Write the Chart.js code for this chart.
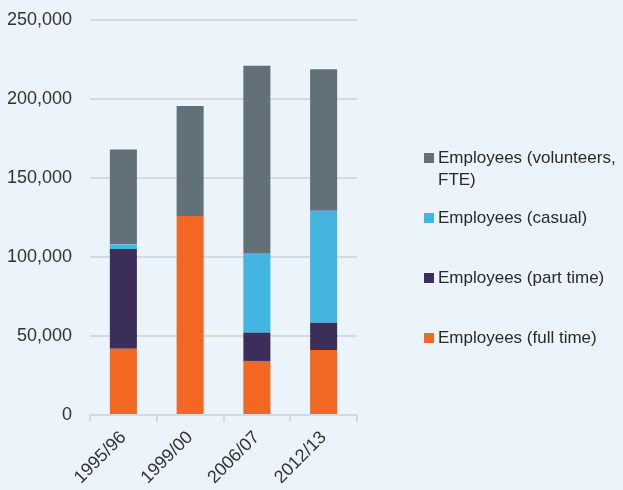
<!DOCTYPE html>
<html>
<head>
<meta charset="utf-8">
<script src="https://cdn.jsdelivr.net/npm/chart.js@4/dist/chart.umd.min.js"></script>
<style>
  html, body { margin: 0; padding: 0; background: #ebf3fb; }
  #wrap { position: relative; width: 623px; height: 490px; }
  #legend {
    position: absolute; left: 424px; top: 147px; margin: 0; padding: 0;
    list-style: none; font-family: "Liberation Sans", Arial, sans-serif;
    font-size: 17px; line-height: 22px; color: #2a2a2a;
  }
  #legend li { position: relative; height: 60px; padding-left: 14px; width: 182px; }
  #legend span.box { position: absolute; left: 0; top: 6px; width: 10px; height: 10px; }
</style>
</head>
<body>
<div id="wrap">
  <canvas id="chart" width="623" height="490"></canvas>
  <ul id="legend"></ul>
</div>
<script>
const years = ['1995/96', '1999/00', '2006/07', '2012/13'];
const fullTime   = [42000, 126000, 34200, 41100];
const partTime   = [63000, 0, 17900, 17300];
const casual     = [3000, 0, 50400, 70900];
const volunteers = [60000, 69500, 118600, 89500];
const yTicks = [0, 50000, 100000, 150000, 200000, 250000];

const series = [
  { label: 'Employees (full time)', data: fullTime, color: '#f26722' },
  { label: 'Employees (part time)', data: partTime, color: '#3b2f5a' },
  { label: 'Employees (casual)', data: casual, color: '#44b4e0' },
  { label: 'Employees (volunteers, FTE)', data: volunteers, color: '#627079' }
];

const font = { family: '"Liberation Sans", Arial, sans-serif', size: 18 };
const gridColor = '#d7dadd';

new Chart(document.getElementById('chart'), {
  type: 'bar',
  data: {
    labels: years,
    datasets: series.map(s => ({
      label: s.label,
      data: s.data,
      backgroundColor: s.color,
      borderWidth: 0,
      categoryPercentage: 1,
      barPercentage: 0.405
    }))
  },
  options: {
    responsive: false,
    animation: false,
    layout: { padding: { top: 20, right: 266, left: 0, bottom: 0 } },
    plugins: { legend: { display: false }, tooltip: { enabled: false } },
    scales: {
      x: {
        stacked: true,
        grid: { offset: true, drawOnChartArea: false, color: gridColor, lineWidth: 2, tickLength: 7 },
        border: { color: gridColor, width: 2 },
        ticks: { font: font, color: '#333', minRotation: 45, maxRotation: 45, padding: 5 },
        afterFit: scale => { scale.height = 75; }
      },
      y: {
        stacked: true,
        min: 0,
        max: 250000,
        grid: { color: gridColor, lineWidth: 2, drawTicks: false },
        border: { display: false },
        afterBuildTicks: scale => { scale.ticks = yTicks.map(v => ({ value: v })); },
        ticks: {
          font: font, color: '#333', padding: 18,
          callback: v => v.toLocaleString('en-US')
        },
        afterFit: scale => { scale.width = 90; scale.paddingTop = 0; }
      }
    }
  }
});

// legend listed top to bottom in reverse stacking order
const legend = document.getElementById('legend');
series.slice().reverse().forEach(s => {
  const li = document.createElement('li');
  li.innerHTML = '<span class="box" style="background:' + s.color + '"></span>' + s.label;
  legend.appendChild(li);
});
</script>
</body>
</html>
